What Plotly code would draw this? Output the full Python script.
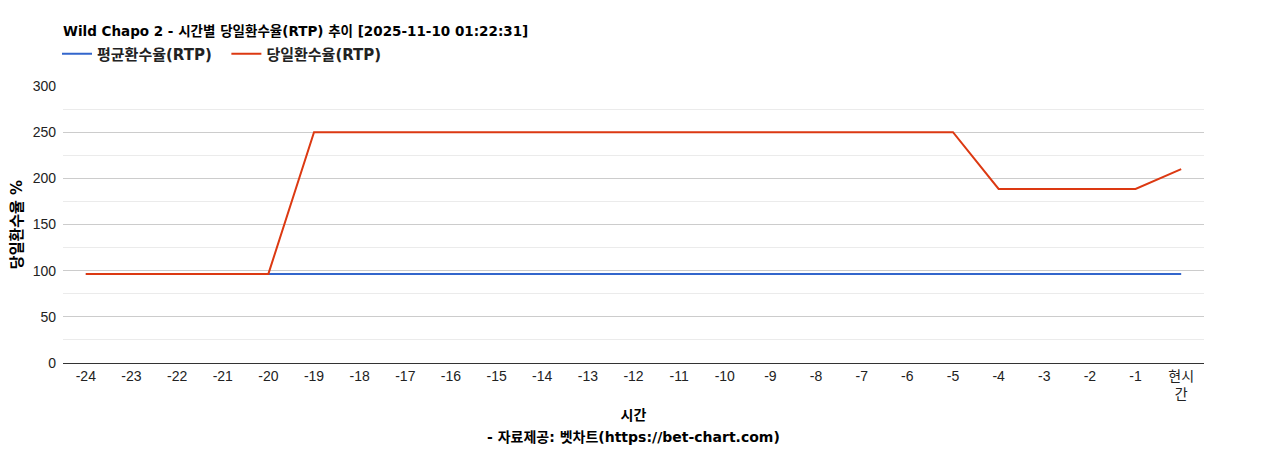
import plotly.graph_objects as go

categories = ["-24", "-23", "-22", "-21", "-20", "-19", "-18", "-17", "-16", "-15", "-14", "-13",
              "-12", "-11", "-10", "-9", "-8", "-7", "-6", "-5", "-4", "-3", "-2", "-1", "현시<br>간"]
avg_rtp = [96.5] * 25
daily_rtp = [96.5, 96.5, 96.5, 96.5, 96.5, 250, 250, 250, 250, 250, 250, 250,
             250, 250, 250, 250, 250, 250, 250, 250, 188.5, 188.5, 188.5, 188.5, 210]
y_ticks = [0, 50, 100, 150, 200, 250, 300]
series_names = ["평균환수율(RTP)", "당일환수율(RTP)"]
source_text = "- 자료제공: 벳차트(https://bet-chart.com)"

TICKFONT = "Liberation Sans, Arial, Noto Sans CJK KR, sans-serif"
BOLDFONT = "DejaVu Sans, Noto Sans CJK KR, sans-serif"

W, H = 1268, 450
OX, OY = 8, 8  # page body margin offset
PL, PR, PT, PB = 63, 1204, 86, 363  # plot area in page pixels

fig = go.Figure()
fig.add_trace(go.Scatter(x=categories, y=avg_rtp, mode="lines",
                         name="<b>" + series_names[0] + "</b>\u00a0\u00a0",
                         line=dict(color="#3366cc", width=2), hoverinfo="skip"))
fig.add_trace(go.Scatter(x=categories, y=daily_rtp, mode="lines",
                         name="<b>" + series_names[1] + "</b>",
                         line=dict(color="#dc3912", width=2), hoverinfo="skip"))

fig.update_layout(
    width=W, height=H,
    margin=dict(l=PL - OX, r=W - PR + OX, t=PT - OY, b=H - PB + OY, autoexpand=False),
    paper_bgcolor="white", plot_bgcolor="white",
    font=dict(family=TICKFONT, size=14, color="#222222"),
    title=dict(text="<b>Wild Chapo 2 - 시간별 당일환수율(RTP) 추이 [2025-11-10 01:22:31]</b>",
               x=(63 - OX) / W, xanchor="left", y=1 - (31 - OY) / H, yanchor="middle",
               font=dict(size=13.5, color="#000000", family=BOLDFONT)),
    legend=dict(orientation="h", x=(63 - 6 - OX) / W, xanchor="left", y=1 - (54 - OY) / H, yanchor="middle",
                xref="container", yref="container",
                font=dict(size=15, color="#222222", family=BOLDFONT),
                bgcolor="rgba(0,0,0,0)"),
    showlegend=True,
)

plot_h = PB - PT
fig.add_annotation(text="<b>" + source_text + "</b>", xref="paper", yref="paper",
                   x=0.5, xanchor="center", y=-(437 - PB) / plot_h, yanchor="middle",
                   showarrow=False, font=dict(size=14, color="#000000", family=BOLDFONT))

fig.update_xaxes(
    type="category", range=[-0.5, 24.5], showgrid=False, zeroline=False, automargin=False,
    showline=True, linecolor="#333333", linewidth=1, ticks="",
    tickfont=dict(size=14, color="#222222", family=TICKFONT),
    title=dict(text="<b>시간</b>", font=dict(size=14, color="#000000", family=BOLDFONT), standoff=9),
)
fig.update_yaxes(
    range=[0, 300], tickvals=y_ticks, showgrid=True, gridcolor="#cccccc", gridwidth=1,
    zeroline=False, showline=False, ticks="", ticklabelstandoff=6, automargin=False,
    minor=dict(dtick=25, showgrid=True, gridcolor="#ebebeb", gridwidth=1),
    tickfont=dict(size=14, color="#222222", family=TICKFONT),
    title=dict(text="<b>당일환수율 %</b>", font=dict(size=15, color="#000000", family=BOLDFONT), standoff=8),
)

fig.write_html("out.html")
